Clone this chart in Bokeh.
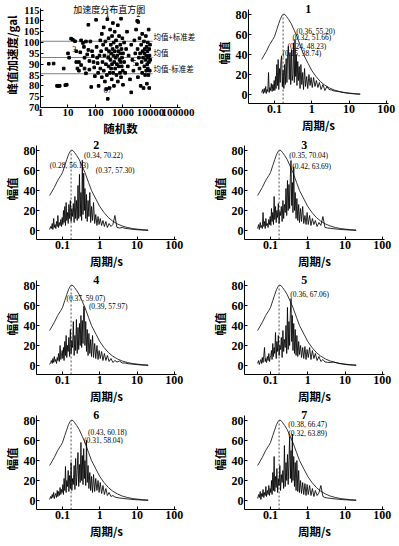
from bokeh.plotting import figure
from bokeh.layouts import column, row
from bokeh.models import Label, FixedTicker, CustomJSTickFormatter
from bokeh.embed import file_html
from bokeh.resources import INLINE

# ---------------- scatter (加速度分布直方图) ----------------
rand_x = [2, 3, 4, 4.5, 5, 7, 8, 9, 10, 11,
          13, 15, 18, 20, 20, 22, 25, 25, 28, 30, 30, 35, 38, 40, 40, 45, 45, 50, 55, 55,
          60, 60, 65, 70, 75, 80, 85, 90, 95,
          105, 110, 115, 120, 125, 130, 140, 150, 150, 160, 170, 170, 180, 190, 200, 200,
          210, 220, 230, 240, 250, 250, 260, 270, 280, 290, 300, 300, 310, 320, 330, 340,
          350, 360, 370, 380, 390, 400, 400, 420, 430, 440, 450, 460, 470, 480, 500, 500,
          520, 540, 560, 580, 600, 600, 620, 650, 650, 680, 700, 720, 750, 780, 800, 800,
          820, 850, 850, 880, 900, 920, 950, 980, 1000, 1000,
          1100, 1100, 1200, 1300, 1400, 1500, 1600, 1800, 2000, 2000, 2200, 2400, 2600, 2800, 3000,
          3200, 3300, 3400, 3500, 3600, 3800, 4000, 4000, 4200, 4400, 4600, 4800, 5000, 5000,
          5200, 5400, 5600, 5800, 6000, 6000, 6200, 6400, 6600, 6800, 7000, 7000, 7200, 7400,
          7600, 7800, 8000, 8000, 8200, 8400, 8600, 8800, 9000, 9000, 9200, 9400, 9600, 9800]
peak_acc = [90.2, 90.3, 80, 80, 80, 88, 80.3, 80.5, 95, 93,
            101.8, 101.3, 100.6, 96, 91, 88, 91, 87, 95.5, 89.6, 101, 99.8, 98, 93, 88, 100.5, 85.8, 94.5, 96.6, 108.2,
            91.5, 87.5, 100.5, 79.5, 96, 93.8, 91, 88.5, 84.5,
            110.5, 98, 93, 90.5, 86, 80, 94, 101, 88, 96, 104, 84, 91, 99, 107, 87,
            94, 82, 100.5, 90, 97, 78.5, 85, 110.8, 74, 93, 102, 89, 96, 79, 86, 106,
            92, 99, 88, 95, 83, 103, 90, 97, 109, 86, 94, 100, 80, 91, 105, 96,
            88, 93, 101, 85, 98, 90, 94, 108, 82, 96, 89, 103, 92, 86, 99, 95,
            91, 111, 84, 97, 89, 93, 102, 87, 95, 80.5,
            100, 91, 86, 97, 105, 89, 94, 83, 99, 77, 92, 87, 101, 95, 106,
            90, 110, 97, 84, 109.5, 93, 102, 88, 95, 80, 99, 91, 104, 86,
            96, 93, 79, 100.5, 89, 95, 97, 85, 92, 103, 87, 94, 98, 81,
            90, 96, 88, 100, 93, 85, 106, 91, 97, 79, 94, 87, 99, 92]
mean_vals = [100.6, 93.1, 85.6]
mean_names = ["均值+标准差", "均值", "均值-标准差"]
case_ids = ["1", "2", "3", "4", "5", "6", "7"]
case_x = [275, 3650, 17, 300, 2600, 230, 330]
case_y = [113.2, 113.2, 97, 94.7, 90.7, 78, 78]
sc_xticks = [1, 10, 100, 1000, 10000, 100000]
sc_yticks = [70, 75, 80, 85, 90, 95, 100, 105, 110, 115]

# ---------------- spectra (幅值 vs 周期) ----------------
periods = [0.045, 0.048, 0.050, 0.053, 0.055, 0.058, 0.060, 0.063, 0.066, 0.069, 0.072, 0.075,
           0.078, 0.082, 0.086, 0.090, 0.094, 0.098,
           0.102, 0.106, 0.110, 0.115, 0.120, 0.125, 0.130, 0.136, 0.142, 0.148, 0.155, 0.162,
           0.170, 0.178, 0.186, 0.195, 0.205, 0.215, 0.225, 0.236, 0.248, 0.260, 0.272, 0.285, 0.298,
           0.312, 0.326, 0.340, 0.355, 0.370, 0.385, 0.400, 0.420, 0.440, 0.460, 0.485, 0.510,
           0.540, 0.570, 0.600, 0.640, 0.680, 0.730, 0.780, 0.840, 0.900, 0.960,
           1.03, 1.12, 1.22, 1.33, 1.46, 1.60, 1.78, 2.00, 2.25, 2.55, 2.90, 3.40, 4.00, 4.80,
           5.80, 7.00, 8.50, 10.5, 13.0, 16.0, 20.0]

amp1 = [2, 5, 1, 6, 2, 8, 1, 5, 3, 22, 2, 7, 4, 11, 3, 10, 4, 14,
        4, 18, 6, 30, 9, 35, 5, 26, 12, 33, 38.74, 8, 24, 6, 30, 10, 36, 12, 40, 48.23, 15, 42, 10, 45, 14,
        20, 51.66, 12, 55.2, 18, 40, 9, 33, 14, 28, 6, 30, 10, 22, 5, 26, 8, 18, 6, 20, 9, 17,
        7, 17, 8, 14, 7, 12, 5, 10, 4, 8, 5, 4.5, 3.5, 3.2, 2.6, 2.0, 1.5, 1.1, 0.8, 0.5, 0.3]
amp2 = [1, 4, 2, 7, 1, 12, 3, 6, 2, 9, 4, 15, 3, 8, 5, 11, 4, 13,
        6, 20, 8, 24, 5, 28, 10, 18, 7, 26, 12, 30, 9, 22, 14, 27, 8, 34, 12, 30, 10, 45, 12, 56.13, 14,
        38, 10, 70.22, 16, 57.3, 20, 42, 12, 36, 9, 30, 14, 38, 8, 24, 10, 28, 7, 16, 5, 14, 6,
        12, 5, 10, 4, 9, 3, 7, 4, 6, 15, 3, 2.5, 3, 2.2, 1.8, 1.4, 1.0, 0.7, 0.5, 0.3, 0.2]
amp3 = [2, 6, 1, 8, 3, 5, 2, 18, 4, 9, 2, 12, 5, 7, 3, 11, 6, 14,
        5, 22, 9, 18, 6, 34, 11, 24, 8, 20, 13, 27, 7, 19, 15, 24, 9, 30, 12, 26, 18, 42, 15, 50, 20,
        46, 22, 53, 70.04, 25, 48, 18, 63.69, 20, 38, 12, 32, 10, 26, 8, 22, 9, 24, 7, 15, 6, 18,
        6, 15, 5, 12, 6, 10, 4, 8, 5, 14, 3, 2.5, 2.2, 1.8, 1.5, 1.2, 0.9, 0.7, 0.5, 0.3, 0.2]
amp4 = [1, 3, 5, 2, 7, 3, 9, 4, 6, 2, 8, 5, 12, 4, 20, 6, 10, 15,
        7, 18, 5, 24, 10, 30, 8, 20, 14, 28, 9, 36, 12, 25, 18, 44, 10, 30, 15, 46, 12, 38, 16, 42, 20,
        50, 18, 45, 22, 59.07, 57.97, 20, 44, 14, 36, 10, 32, 12, 26, 9, 30, 8, 22, 7, 20, 6, 15,
        7, 14, 5, 12, 5, 10, 4, 7, 3, 5, 3.5, 4.5, 2.5, 2.5, 1.8, 1.5, 1.1, 0.8, 0.5, 0.3, 0.2]
amp5 = [2, 5, 1, 4, 6, 2, 8, 3, 10, 18, 4, 7, 3, 9, 5, 12, 4, 8,
        10, 15, 6, 22, 9, 18, 12, 33, 7, 24, 14, 30, 10, 20, 16, 28, 8, 35, 14, 26, 18, 40, 12, 58, 16,
        44, 20, 52, 67.06, 24, 50, 15, 42, 12, 36, 10, 30, 9, 24, 11, 20, 8, 18, 7, 19, 6, 16,
        8, 18, 6, 15, 7, 12, 5, 9, 4, 6, 3.5, 3.2, 3.0, 3.5, 2.8, 2.0, 1.5, 1.0, 0.6, 0.4, 0.2]
amp6 = [1, 4, 2, 6, 3, 8, 2, 5, 7, 3, 10, 4, 9, 5, 13, 6, 11, 8,
        16, 6, 22, 10, 34, 8, 20, 14, 30, 9, 25, 12, 38, 10, 22, 16, 35, 11, 42, 15, 30, 48, 14, 36, 18,
        58.04, 20, 45, 16, 52, 22, 40, 15, 60.18, 18, 35, 12, 28, 10, 24, 8, 26, 9, 22, 10, 20, 8,
        18, 7, 15, 6, 12, 5, 8, 4, 5, 3.5, 3, 2.5, 2.2, 1.8, 1.5, 1.2, 0.9, 0.7, 0.5, 0.3, 0.2]
amp7 = [2, 6, 3, 9, 1, 7, 4, 11, 3, 8, 5, 14, 4, 10, 6, 15, 5, 12,
        8, 20, 6, 28, 10, 44, 9, 24, 13, 32, 8, 22, 15, 35, 10, 26, 18, 30, 12, 55, 14, 38, 20, 46, 16,
        40, 63.89, 22, 50, 18, 66.47, 20, 44, 14, 38, 10, 40, 9, 30, 8, 20, 7, 18, 6, 17, 5, 16,
        6, 15, 5, 12, 4, 10, 5, 8, 15, 4, 3, 2.5, 2.2, 1.8, 1.5, 1.2, 0.9, 0.7, 0.5, 0.3, 0.2]

env_T = [0.045, 0.06, 0.074, 0.09, 0.10, 0.115, 0.13, 0.145, 0.16, 0.175, 0.19, 0.21, 0.24,
         0.28, 0.34, 0.40, 0.50, 0.60, 0.80, 1.0, 1.3, 1.7, 2.2, 3.0, 4.0, 5.5, 7.5, 10, 14, 20]
env_A = [35, 43, 50, 55, 58, 65, 71, 76, 79, 80.5, 80, 78, 75, 71, 64, 58, 48, 40, 31, 24,
         18, 13, 9.5, 6.5, 4.5, 3.0, 2.0, 1.4, 0.8, 0.4]
env_peak_T = 0.17
env_peak_A = 80
sp_xticks = [0.1, 1, 10, 100]
sp_yticks = [0, 20, 40, 60, 80]

panels = [
    ("1", amp1, [("(0.36, 55.20)", 0.386, 63), ("(0.32, 51.66)", 0.302, 56.6),
                 ("(0.24, 48.23)", 0.222, 48.4), ("(0.15, 38.74)", 0.163, 41.2)]),
    ("2", amp2, [("(0.34, 70.22)", 0.38, 75), ("(0.28, 56.13)", 0.0455, 65),
                 ("(0.37, 57.30)", 0.785, 60.5)]),
    ("3", amp3, [("(0.35, 70.04)", 0.32, 75), ("(0.42, 63.69)", 0.386, 64.5)]),
    ("4", amp4, [("(0.37, 59.07)", 0.127, 67), ("(0.39, 57.97)", 0.51, 59)]),
    ("5", amp5, [("(0.36, 67.06)", 0.34, 71)]),
    ("6", amp6, [("(0.43, 60.18)", 0.48, 68), ("(0.31, 58.04)", 0.38, 60)]),
    ("7", amp7, [("(0.38, 66.47)", 0.30, 76.5), ("(0.32, 63.89)", 0.30, 67.5)]),
]

SERIF = "Liberation Serif"
CJK = "Noto Sans CJK SC"
tick_fmt = CustomJSTickFormatter(code="return String(tick)")


def style(p):
    p.xgrid.visible = False
    p.ygrid.visible = False
    p.outline_line_color = None
    p.title.visible = False
    for ax in (p.xaxis[0], p.yaxis[0]):
        ax.major_tick_in = 3
        ax.major_tick_out = 0
        ax.minor_tick_in = 0
        ax.minor_tick_out = 0
        ax.axis_line_color = "black"
        ax.major_tick_line_color = "black"
        ax.major_label_text_font = SERIF
        ax.major_label_text_font_style = "bold"
        ax.major_label_text_font_size = "12px"
        ax.major_label_text_color = "black"
        ax.major_label_standoff = 1
        ax.axis_label_text_font = CJK
        ax.axis_label_text_font_style = "bold"
        ax.axis_label_text_font_size = "11.5px"
        ax.axis_label_text_color = "black"
        ax.axis_label_standoff = 1


# scatter figure
ps = figure(frame_width=160, frame_height=105, x_axis_type="log", x_range=(1, 660000),
            y_range=(70, 118.5), output_backend="svg", toolbar_location=None,
            min_border_left=35, min_border_right=0, min_border_top=0, min_border_bottom=27)
style(ps)
ps.xaxis.ticker = FixedTicker(ticks=sc_xticks)
ps.xaxis.formatter = tick_fmt
ps.xaxis.bounds = (1, 125000)
ps.xaxis.major_label_text_font_size = "11px"
ps.yaxis.ticker = FixedTicker(ticks=sc_yticks)
ps.yaxis.bounds = (70, 115.5)
ps.xaxis.axis_label = "随机数"
ps.yaxis.axis_label = "峰值加速度/gal"
ps.yaxis.major_label_text_font_size = "10.5px"
ps.yaxis.axis_label_text_font_size = "11.5px"
for mv, nm in zip(mean_vals, mean_names):
    ps.segment(x0=1, y0=mv, x1=12000, y1=mv, line_color="#808080", line_width=1)
    ps.add_layout(Label(x=13000, y=mv + 2.3, text=nm, text_font=CJK, text_font_size="7.5px",
                        text_color="black", text_baseline="middle", text_align="left"))
ps.scatter(rand_x, peak_acc, marker="square", size=2.6, color="black")
for cid, cx, cy in zip(case_ids, case_x, case_y):
    ps.add_layout(Label(x=cx, y=cy, text=cid, text_font=SERIF, text_font_size="8px",
                        text_color="black", text_baseline="middle", text_align="center"))
ps.add_layout(Label(x=316, y=118.5, text="加速度分布直方图", text_font=CJK,
                    text_font_size="9px", text_color="black", text_baseline="top",
                    text_align="center"))


def make_spec(title, amps, labels, left):
    if left:
        bl, br = 35, 20
    else:
        bl, br = 48, 8
    p = figure(frame_width=140, frame_height=101, x_axis_type="log", x_range=(0.02, 115),
               y_range=(-9, 92), output_backend="svg", toolbar_location=None,
               min_border_left=bl, min_border_right=br, min_border_top=2, min_border_bottom=29)
    style(p)
    p.xaxis.ticker = FixedTicker(ticks=sp_xticks)
    p.xaxis.formatter = tick_fmt
    p.yaxis.ticker = FixedTicker(ticks=sp_yticks)
    p.yaxis.bounds = (-9, 85)
    p.xaxis.axis_label = "周期/s"
    p.yaxis.axis_label = "幅值"
    p.line(periods, amps, line_color="black", line_width=0.85)
    p.line(env_T, env_A, line_color="black", line_width=0.8)
    p.segment(x0=env_peak_T, y0=-9, x1=env_peak_T, y1=env_peak_A, line_color="black",
              line_width=0.7, line_dash="2 2")
    for txt, lx, ly in labels:
        p.add_layout(Label(x=lx, y=ly, text=txt, text_font=SERIF, text_font_size="7.5px",
                           text_color="black", text_baseline="middle", text_align="left"))
    p.add_layout(Label(x=0.8, y=86, text=title, text_font=SERIF, text_font_size="12px",
                       text_color="black", text_font_style="bold", text_baseline="middle",
                       text_align="center"))
    return p


figs = [make_spec(t, a, l, i % 2 == 1) for i, (t, a, l) in enumerate(panels)]

layout = column(
    row(ps, figs[0]),
    row(figs[1], figs[2]),
    row(figs[3], figs[4]),
    row(figs[5], figs[6]),
    spacing=0,
)

open("out.html", "w").write(file_html(layout, INLINE))
